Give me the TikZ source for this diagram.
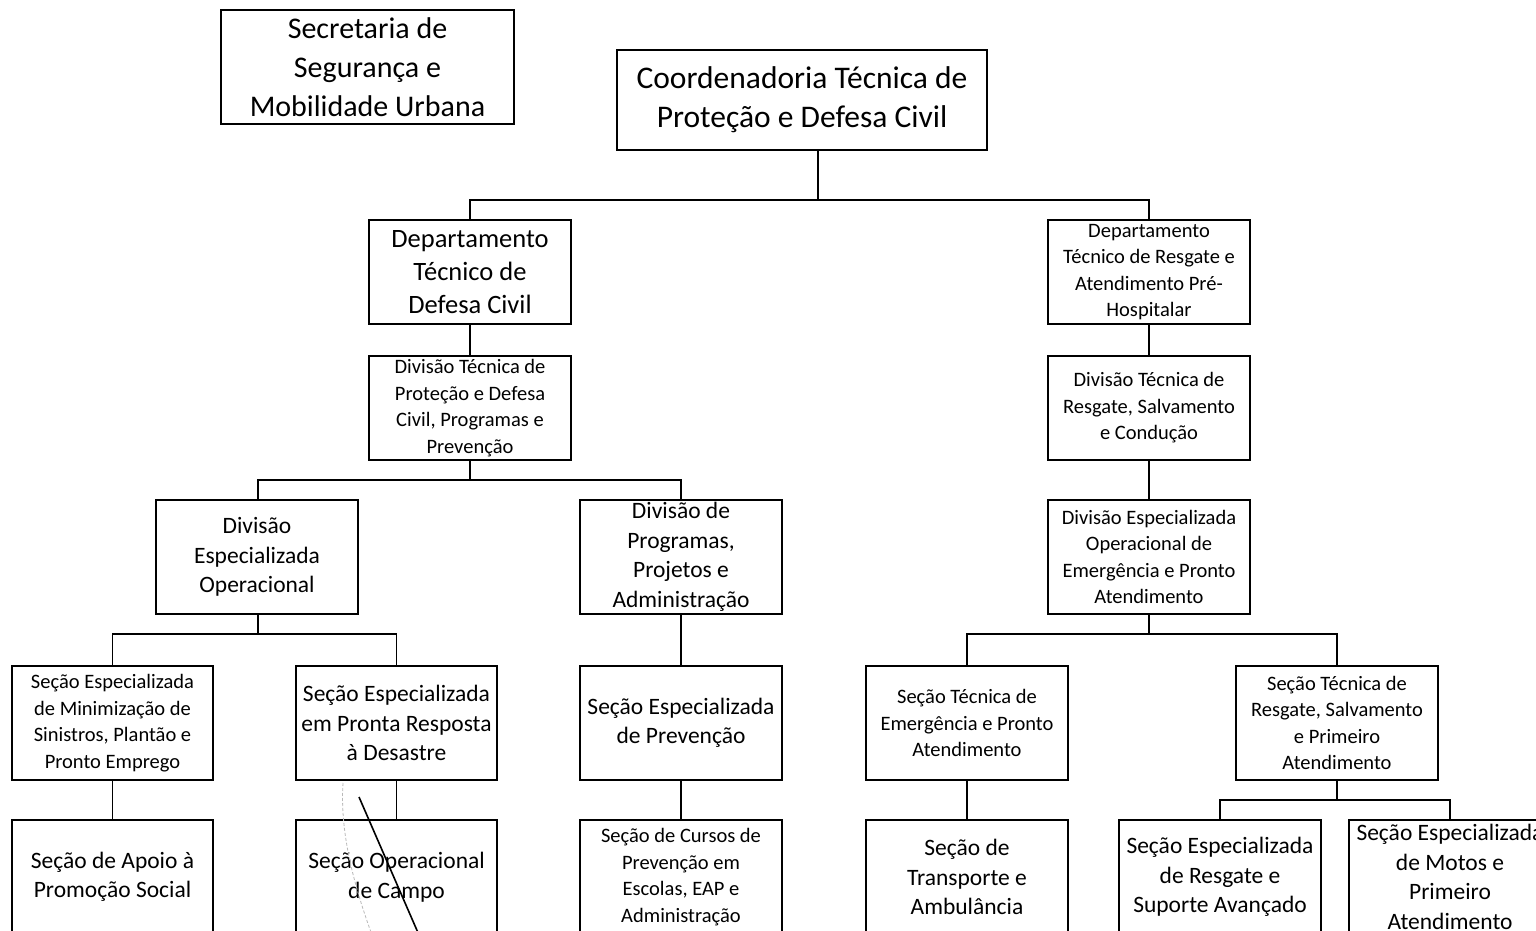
\documentclass[tikz,border=0pt]{standalone}
\usepackage{fontspec}
\setmainfont{Carlito}
\newcommand{\fA}{\fontsize{30}{39}\selectfont}
\newcommand{\fAA}{\fontsize{31.5}{39}\selectfont}
\newcommand{\fB}{\fontsize{26.5}{33}\selectfont}
\newcommand{\fC}{\fontsize{20.5}{26.6}\selectfont}
\newcommand{\fD}{\fontsize{23.5}{29.5}\selectfont}
\tikzset{
  box/.style={draw=black, line width=1.5pt, align=center, inner sep=0pt},
  conn/.style={draw=black, line width=1.3pt},
}
\begin{document}
\begin{tikzpicture}[x=1pt,y=-1pt]
\useasboundingbox (0,0) rectangle (1536,931);
\clip (0,0) rectangle (1536,931);
\fill[white] (0,0) rectangle (1536,931);

% top
\node[box, minimum width=293, minimum height=114, font=\fA] (sec) at (367.5,67)
  {Secretaria de\\Segurança e\\Mobilidade Urbana};
\node[box, minimum width=370, minimum height=100, font=\fAA] (coord) at (802,100)
  {Coordenadoria Técnica de\\Proteção e Defesa Civil};

% left branch
\node[box, minimum width=202, minimum height=104, font=\fB] (dep1) at (470,272)
  {Departamento\\Técnico de\\Defesa Civil};
\node[box, minimum width=202, minimum height=104, font=\fC] (div1) at (470,408)
  {Divisão Técnica de\\Proteção e Defesa\\Civil, Programas e\\Prevenção};
\node[box, minimum width=202, minimum height=114, font=\fD] (divop) at (257,557)
  {Divisão\\Especializada\\Operacional};
\node[box, minimum width=202, minimum height=114, font=\fD] (divprog) at (681,557)
  {Divisão de\\Programas,\\Projetos e\\Administração};
\node[box, minimum width=201, minimum height=114, font=\fC] (semin) at (112.5,723)
  {Seção Especializada\\de Minimização de\\Sinistros, Plantão e\\Pronto Emprego};
\node[box, minimum width=201, minimum height=114, font=\fD] (sepr) at (396.5,723)
  {Seção Especializada\\em Pronta Resposta\\à Desastre};
\node[box, minimum width=202, minimum height=114, font=\fD] (seprev) at (681,723)
  {Seção Especializada\\de Prevenção};
\node[box, minimum width=201, minimum height=114, font=\fD] (seapoio) at (112.5,877)
  {Seção de Apoio à\\Promoção Social};
\node[box, minimum width=201, minimum height=114, font=\fD] (seop) at (396.5,877)
  {Seção Operacional\\de Campo};
\node[box, minimum width=202, minimum height=114, font=\fC] (secursos) at (681,877)
  {Seção de Cursos de\\Prevenção em\\Escolas, EAP e\\Administração};

% right branch
\node[box, minimum width=202, minimum height=104, font=\fC] (dep2) at (1149,272)
  {Departamento\\Técnico de Resgate e\\Atendimento Pré-\\Hospitalar};
\node[box, minimum width=202, minimum height=104, font=\fC] (div2) at (1149,408)
  {Divisão Técnica de\\Resgate, Salvamento\\e Condução};
\node[box, minimum width=202, minimum height=114, font=\fC] (diveme) at (1149,557)
  {Divisão Especializada\\Operacional de\\Emergência e Pronto\\Atendimento};
\node[box, minimum width=202, minimum height=114, font=\fC] (setem) at (967,723)
  {Seção Técnica de\\Emergência e Pronto\\Atendimento};
\node[box, minimum width=202, minimum height=114, font=\fC] (setres) at (1337,723)
  {Seção Técnica de\\Resgate, Salvamento\\e Primeiro\\Atendimento};
\node[box, minimum width=202, minimum height=114, font=\fD] (setrans) at (967,877)
  {Seção de\\Transporte e\\Ambulância};
\node[box, minimum width=202, minimum height=114, font=\fD] (sesup) at (1220,877)
  {Seção Especializada\\de Resgate e\\Suporte Avançado};
\node[box, minimum width=202, minimum height=114, font=\fD] (semotos) at (1450,877)
  {Seção Especializada\\de Motos e\\Primeiro\\Atendimento};

% bus points
\coordinate (b1) at (818,200);
\coordinate (b2) at (470,480);
\coordinate (b3) at (258,634);
\coordinate (b4) at (1149,634);
\coordinate (b5) at (1337,800);

% connectors
\draw[conn] (coord.south -| b1) -- (b1);
\draw[conn] (b1) -| (dep1.north);
\draw[conn] (b1) -| (dep2.north);
\draw[conn] (dep1) -- (div1);
\draw[conn] (div1.south) -- (b2);
\draw[conn] (b2) -| (divop.north -| b3);
\draw[conn] (b2) -| (divprog.north);
\draw[conn] (divop.south -| b3) -- (b3);
\draw[conn] (b3) -| (semin.north);
\draw[conn] (b3) -| (sepr.north);
\draw[conn] (semin) -- (seapoio);
\draw[conn] (sepr) -- (seop);
\draw[conn] (divprog) -- (seprev);
\draw[conn] (seprev) -- (secursos);
\draw[conn] (dep2) -- (div2);
\draw[conn] (div2) -- (diveme);
\draw[conn] (diveme.south) -- (b4);
\draw[conn] (b4) -| (setem.north);
\draw[conn] (b4) -| (setres.north);
\draw[conn] (setem) -- (setrans);
\draw[conn] (setres.south) -- (b5);
\draw[conn] (b5) -| (sesup.north);
\draw[conn] (b5) -| (semotos.north);

% pen marks over "Seção Operacional de Campo"
\coordinate (m1) at (359,797);
\coordinate (m2) at (419,935);
\draw[line width=1.6pt] (m1) -- (m2);
\coordinate (m3) at (343,783);
\coordinate (m4) at (372,935);
\draw[gray!55, line width=0.8pt, densely dashed] (m3) .. controls (340,830) and (352,880) .. (m4);
\end{tikzpicture}
\end{document}
